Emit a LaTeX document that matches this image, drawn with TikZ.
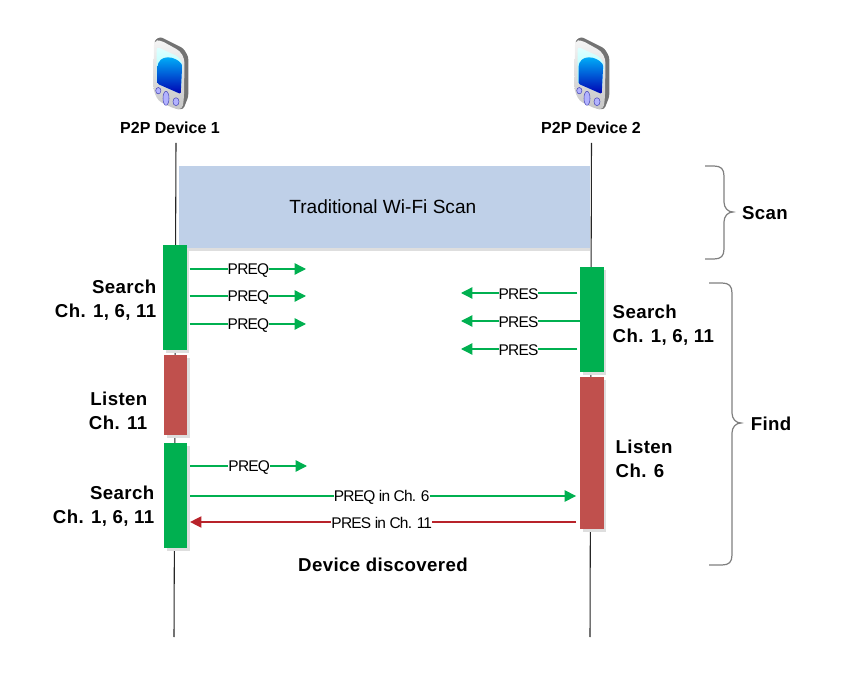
\documentclass[tikz,border=0pt]{standalone}
\usepackage{fontspec}
\usetikzlibrary{arrows.meta,shadows}
\setmainfont{Liberation Sans}
\newfontfamily\spacedfont[LetterSpace=2]{Liberation Sans}

\definecolor{searchgreen}{HTML}{00B050}
\definecolor{listenred}{HTML}{C0504D}
\definecolor{scanblue}{HTML}{BFD0E8}
\definecolor{presred}{HTML}{B8232A}
\definecolor{bracegray}{HTML}{7F7F7F}

\tikzset{
  slot/.style={inner sep=0pt,minimum width=17.5pt,general shadow={fill=black!13,shadow xshift=2pt,shadow yshift=-2pt}},
  searchslot/.style={slot,fill=searchgreen},
  listenslot/.style={slot,fill=listenred},
  lifeline/.style={black!85,line width=0.8pt},
  msg/.style={line width=1pt,-{Triangle[length=8.5pt,width=8.5pt]}},
  greenmsg/.style={msg,searchgreen},
  redmsg/.style={msg,presred},
  msgtext/.style={fill=white,inner xsep=0pt,inner ysep=0pt,yshift=-1pt,text=black,font=\fontsize{11.6}{13}\selectfont\addfontfeature{LetterSpace=-5}},
  reqtext/.style={msgtext,xshift=1.5pt},
  restext/.style={msgtext,xshift=-1.5pt},
  steptext/.style={font=\fontsize{14}{18}\selectfont\spacedfont\bfseries},
  devtext/.style={font=\fontsize{12}{14}\selectfont\bfseries},
  bracket/.style={bracegray,line width=0.9pt},
  phone/.pic={
    \fill[black!55,rounded corners=2pt] (-17,-32)--(-11,-36.3)--(12.3,-24.7)--(17.3,-16.3)--(17.3,23.7)--(12.3,36.3)--(4,36)--cycle;
    \shade[top color=black!4,bottom color=black!22,rounded corners=3pt] (-17,-32)--(-11,-33)--(9,-22)--(13.5,-14)--(13,24)--(11.5,36.3)--(4,36)--(-12.7,28)--(-17.7,17)--cycle;
    \shade[top color=cyan!12,bottom color=cyan!45,rounded corners=2pt] (-14.3,-26.3)--(7.3,-16.3)--(11.7,-9.7)--(9.7,21)--(-14.3,10.3)--cycle;
    \shade[top color=cyan!75!blue,bottom color=blue!70!black,rounded corners=1pt] (-13.5,-4) .. controls (-13,-20) and (5,-17) .. (11.2,-8)--(9.7,21)--(-13.5,10.8)--cycle;
    \foreach \bx/\by/\brx/\bry in {-12.7/17.7/2.6/3.2,-5/25.3/3/7,5/28.7/3/4}
      \draw[blue!60!black!70,fill=blue!30] (\bx,\by) ellipse ({\brx*0.75pt} and {\bry*0.75pt});
  }
}

\begin{document}
\begin{tikzpicture}[x=0.75pt,y=-0.75pt]
  \useasboundingbox (0,0) rectangle (850,698);

  % devices
  \pic at (171,73) {phone};
  \pic at (592,73) {phone};
  \node[devtext] (device1) at (170,128) {P2P Device 1};
  \node[devtext] (device2) at (591,128) {P2P Device 2};

  % life lines
  \coordinate (lifea) at (176,143);
  \coordinate (lifeb) at (174,637);
  \coordinate (lifec) at (591.5,143);
  \coordinate (lifed) at (590,637);
  \draw[lifeline] (lifea)--(lifeb);
  \draw[lifeline] (lifec)--(lifed);

  % time slots
  \node[fill=scanblue,inner sep=0pt,minimum width=308pt,minimum height=61.5pt,
        general shadow={fill=black!13,shadow yshift=-2pt},
        font=\fontsize{14.3}{17}\selectfont] (wifiscan) at (384.5,207) {\kern-2.5pt Traditional Wi-Fi Scan};
  \node[searchslot,minimum height=78.75pt] (search1) at (175,297.5) {};
  \node[listenslot,minimum height=60pt] (listen1) at (175.5,395) {};
  \node[searchslot,minimum height=78.75pt] (search2) at (175.5,495.5) {};
  \node[searchslot,minimum height=78.75pt] (search3) at (592,319.5) {};
  \node[listenslot,minimum height=114pt] (listen2) at (592,453) {};

  % slot labels
  \node[steptext,align=right,anchor=east] (search1txt) at (161,300) {Search\\Ch. 1, 6, 11};
  \node[steptext,align=right,anchor=east] (listen1txt) at (152,411) {Listen\\Ch. 11};
  \node[steptext,align=right,anchor=east] (search2txt) at (159,506) {Search\\Ch. 1, 6, 11};
  \node[steptext,align=left,anchor=west] (search3txt) at (608,325) {Search\\Ch. 1, 6, 11};
  \node[steptext,align=left,anchor=west] (listen2txt) at (611,459) {Listen\\Ch. 6};
  \node[steptext] (scantxt) at (765,213) {Scan};
  \node[steptext] (findtxt) at (771,424) {Find};
  \node[steptext] (discovered) at (383,564.5) {Device discovered};

  % messages
  \coordinate (reqa) at (306,269);
  \coordinate (reqb) at (306,296);
  \coordinate (reqc) at (306,324);
  \coordinate (reqd) at (307,466);
  \coordinate (resa) at (461,293);
  \coordinate (resb) at (461,321);
  \coordinate (resc) at (461,349);
  \coordinate (longa) at (381,496);
  \coordinate (longb) at (381,522);
  \draw[greenmsg,shorten <=2pt] (search1.east |- reqa)--(reqa) node[midway,reqtext]{PREQ};
  \draw[greenmsg,shorten <=2pt] (search1.east |- reqb)--(reqb) node[midway,reqtext]{PREQ};
  \draw[greenmsg,shorten <=2pt] (search1.east |- reqc)--(reqc) node[midway,reqtext]{PREQ};
  \draw[greenmsg,shorten <=2pt] (search2.east |- reqd)--(reqd) node[midway,reqtext]{PREQ};
  \draw[greenmsg,shorten <=2pt] (search3.west |- resa)--(resa) node[midway,restext]{PRES};
  \draw[greenmsg] (search3.west |- resb)--(resb) node[midway,restext]{PRES};
  \draw[greenmsg,shorten <=2pt] (search3.west |- resc)--(resc) node[midway,restext]{PRES};
  \draw[greenmsg,shorten <=2pt,shorten >=3pt] (search2.east |- longa)--(listen2.west |- longa) node[midway,restext]{PREQ in Ch. 6};
  \draw[redmsg,shorten <=3pt,shorten >=2pt] (listen2.west |- longb)--(search2.east |- longb) node[midway,restext]{PRES in Ch. 11};

  % braces
  \draw[bracket] (705,166)--(714,166) .. controls (721,166) and (724,169) .. (724,176)
    --(724,202) .. controls (724,208) and (728,212) .. (733,212)
    .. controls (728,212) and (724,216) .. (724,222)--(724,249)
    .. controls (724,256) and (721,259) .. (714,259)--(705,259);
  \draw[bracket] (709,283)--(722,283) .. controls (729,283) and (732,286) .. (732,293)
    --(732,413) .. controls (732,419) and (736,423) .. (741,423)
    .. controls (736,423) and (732,427) .. (732,433)--(732,555)
    .. controls (732,562) and (729,565) .. (722,565)--(709,565);
\end{tikzpicture}
\end{document}
